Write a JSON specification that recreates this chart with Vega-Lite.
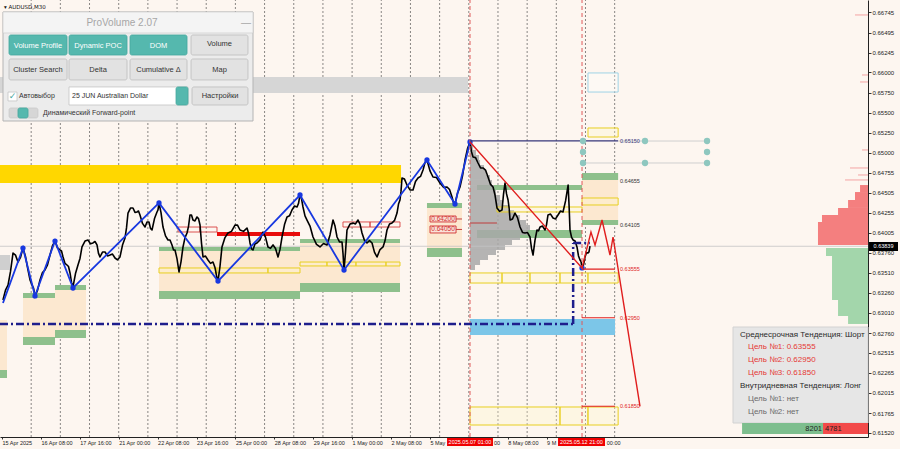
{
"$schema":"https://vega.github.io/schema/vega-lite/v6.json",
"width":868,"height":437,
"autosize":{"type":"none"},
"padding":{"left":0,"top":0,"right":32,"bottom":12},
"background":"#FDF6F0",
"config":{"view":{"fill":"#FDF6F0","stroke":null},"font":"Liberation Sans"},
"encoding":{
 "x":{"field":"t","type":"quantitative","title":null,"scale":{"domain":[-3.3,1424.8],"nice":false,"zero":false},
  "axis":{"orient":"bottom","values":[0,64,128,192,256,320,384,448,512,576,640,704,768,832,896,960],
  "labelExpr":"['15 Apr 2025','16 Apr 08:00','17 Apr 16:00','21 Apr 00:00','22 Apr 08:00','23 Apr 16:00','25 Apr 00:00','28 Apr 08:00','29 Apr 16:00','1 May 00:00','2 May 08:00','5 May','','8 May 08:00','9 M',''][round(datum.value/64)]",
  "labelAlign":"left","labelFontSize":5.5,"labelColor":"#222","tickSize":2,"tickColor":"#333","domainColor":"#222","labelPadding":1,"grid":false,"labelOverlap":false,"labelFlush":false,"labelBound":false}},
 "y":{"field":"p","type":"quantitative","title":null,"scale":{"domain":[0.61468,0.669],"nice":false,"zero":false},
  "axis":{"orient":"right","values":[0.66745,0.66495,0.66245,0.66,0.6575,0.655,0.6525,0.65,0.64755,0.64505,0.64255,0.64005,0.6376,0.6351,0.6326,0.6301,0.6276,0.62515,0.62265,0.62015,0.61765,0.6152],
  "format":".5f","labelFontSize":6,"labelColor":"#222","tickSize":3,"tickColor":"#333","domainColor":"#222","labelPadding":1,"grid":false,"labelOverlap":false,"labelFlush":false,"labelBound":false}}
},
"datasets":{
"seps":[{"t":48,"p":0.61468,"p2":0.669},{"t":96,"p":0.61468,"p2":0.669},{"t":144,"p":0.61468,"p2":0.669},{"t":192,"p":0.61468,"p2":0.669},{"t":240,"p":0.61468,"p2":0.669},{"t":288,"p":0.61468,"p2":0.669},{"t":336,"p":0.61468,"p2":0.669},{"t":384,"p":0.61468,"p2":0.669},{"t":432,"p":0.61468,"p2":0.669},{"t":480,"p":0.61468,"p2":0.669},{"t":528,"p":0.61468,"p2":0.669},{"t":576,"p":0.61468,"p2":0.669},{"t":624,"p":0.61468,"p2":0.669},{"t":672,"p":0.61468,"p2":0.669},{"t":720,"p":0.61468,"p2":0.669},{"t":768,"p":0.61468,"p2":0.669},{"t":816,"p":0.61468,"p2":0.669},{"t":864,"p":0.61468,"p2":0.669},{"t":912,"p":0.61468,"p2":0.669},{"t":960,"p":0.61468,"p2":0.669},{"t":1008,"p":0.61468,"p2":0.669}],
"redv":[{"t":770,"p":0.61468,"p2":0.669},{"t":954.3,"p":0.61468,"p2":0.669}],
"fills":[
{"kind":"grayband","t":-3.3,"t2":766.7,"p":0.65943,"p2":0.65744},
{"kind":"yellowband","t":-3.3,"t2":656.5,"p":0.64849,"p2":0.64625},
{"kind":"beige","t":34.55,"t2":87.2,"p":0.63208,"p2":0.62711},
{"kind":"beige","t":87.2,"t2":138.2,"p":0.63295,"p2":0.62798},
{"kind":"beige","t":258.3,"t2":490.3,"p":0.6378,"p2":0.63283},
{"kind":"beige","t":490.3,"t2":654.8,"p":0.6388,"p2":0.63382},
{"kind":"beige","t":699.2,"t2":756.8,"p":0.64315,"p2":0.63817},
{"kind":"beige","t":954.3,"t2":1013.7,"p":0.64663,"p2":0.64141},
{"kind":"beige","t":-3.3,"t2":8.2,"p":0.62922,"p2":0.62301},
{"kind":"green","t":34.55,"t2":87.2,"p":0.63258,"p2":0.63196},
{"kind":"green","t":34.55,"t2":87.2,"p":0.62711,"p2":0.62612},
{"kind":"green","t":87.2,"t2":138.2,"p":0.63357,"p2":0.63295},
{"kind":"green","t":87.2,"t2":138.2,"p":0.62798,"p2":0.62699},
{"kind":"green","t":258.3,"t2":490.3,"p":0.6383,"p2":0.6378},
{"kind":"green","t":258.3,"t2":490.3,"p":0.63283,"p2":0.63183},
{"kind":"green","t":490.3,"t2":654.8,"p":0.63929,"p2":0.6388},
{"kind":"green","t":490.3,"t2":654.8,"p":0.63382,"p2":0.6327},
{"kind":"green","t":699.2,"t2":756.8,"p":0.64377,"p2":0.64315},
{"kind":"green","t":699.2,"t2":756.8,"p":0.63817,"p2":0.63706},
{"kind":"green","t":781.5,"t2":954.3,"p":0.646,"p2":0.64538},
{"kind":"green","t":781.5,"t2":954.3,"p":0.64041,"p2":0.63942},
{"kind":"green","t":954.3,"t2":1013.7,"p":0.6475,"p2":0.64663},
{"kind":"green","t":954.3,"t2":1013.7,"p":0.64165,"p2":0.64103},
{"kind":"green","t":-3.3,"t2":8.2,"p":0.62301,"p2":0.62201},
{"kind":"graybox","t":-3.3,"t2":13.2,"p":0.6373,"p2":0.63544},
{"kind":"skyblue","t":770,"t2":1008.6,"p":0.62935,"p2":0.62736},
{"kind":"redbar","t":353.7,"t2":490.3,"p":0.64016,"p2":0.63967}
],
"frames":[
{"kind":"yellow","t":258.3,"t2":353.7,"p":0.63569,"p2":0.63507},
{"kind":"yellow","t":353.7,"t2":437.6,"p":0.63569,"p2":0.63507},
{"kind":"yellow","t":437.6,"t2":490.3,"p":0.63569,"p2":0.63507},
{"kind":"yellow","t":490.3,"t2":534.7,"p":0.63643,"p2":0.63594},
{"kind":"yellow","t":534.7,"t2":582.4,"p":0.63643,"p2":0.63594},
{"kind":"yellow","t":582.4,"t2":631.8,"p":0.63643,"p2":0.63594},
{"kind":"yellow","t":631.8,"t2":654.8,"p":0.63643,"p2":0.63594},
{"kind":"yellow","t":814.4,"t2":954.3,"p":0.64327,"p2":0.64265},
{"kind":"yellow","t":954.3,"t2":1013.7,"p":0.64439,"p2":0.64352},
{"kind":"yellow","t":770,"t2":822.7,"p":0.63507,"p2":0.63382},
{"kind":"yellow","t":822.7,"t2":868.7,"p":0.63507,"p2":0.63382},
{"kind":"yellow","t":868.7,"t2":918.1,"p":0.63507,"p2":0.63382},
{"kind":"yellow","t":918.1,"t2":964.1,"p":0.63507,"p2":0.63382},
{"kind":"yellow","t":964.1,"t2":1013.7,"p":0.63507,"p2":0.63382},
{"kind":"yellow","t":770,"t2":918.1,"p":0.61841,"p2":0.61617},
{"kind":"yellow","t":918.1,"t2":964.1,"p":0.61841,"p2":0.61617},
{"kind":"yellow","t":964.1,"t2":1013.7,"p":0.61841,"p2":0.61617},
{"kind":"yellow","t":964.1,"t2":1013.7,"p":0.65309,"p2":0.65197},
{"kind":"lightblue","t":964.1,"t2":1013.7,"p":0.65993,"p2":0.65756},
{"kind":"red","t":289.6,"t2":325.8,"p":0.64078,"p2":0.64016},
{"kind":"red","t":325.8,"t2":353.7,"p":0.64078,"p2":0.64016},
{"kind":"red","t":561,"t2":605.5,"p":0.64141,"p2":0.64078},
{"kind":"red","t":605.5,"t2":654.8,"p":0.64141,"p2":0.64078}
],
"tags":[
{"t":704.2,"t2":747,"p":0.64215,"p2":0.64141},
{"t":704.2,"t2":747,"p":0.64091,"p2":0.64004}
],
"tagtext":[{"t":725.6,"p":0.64178,"text":"0.64200"},{"t":725.6,"p":0.64048,"text":"0.64050"}],
"profile":[
{"t":770,"t2":774.9,"p":0.65098,"p2":0.65036},
{"t":770,"t2":779.9,"p":0.65036,"p2":0.64973},
{"t":770,"t2":784.8,"p":0.64973,"p2":0.64911},
{"t":770,"t2":786.5,"p":0.64911,"p2":0.64849},
{"t":770,"t2":793.0,"p":0.64849,"p2":0.64787},
{"t":770,"t2":796.3,"p":0.64787,"p2":0.64725},
{"t":770,"t2":802.9,"p":0.64725,"p2":0.64663},
{"t":770,"t2":806.2,"p":0.64663,"p2":0.646},
{"t":770,"t2":809.5,"p":0.646,"p2":0.64538},
{"t":770,"t2":812.8,"p":0.64538,"p2":0.64476},
{"t":770,"t2":819.4,"p":0.64476,"p2":0.64414},
{"t":770,"t2":824.3,"p":0.64414,"p2":0.64352},
{"t":770,"t2":832.5,"p":0.64352,"p2":0.6429},
{"t":770,"t2":842.4,"p":0.6429,"p2":0.64228},
{"t":770,"t2":852.3,"p":0.64228,"p2":0.64165},
{"t":770,"t2":862.1,"p":0.64165,"p2":0.64103},
{"t":770,"t2":868.7,"p":0.64103,"p2":0.64041},
{"t":770,"t2":865.4,"p":0.64041,"p2":0.63979},
{"t":770,"t2":852.3,"p":0.63979,"p2":0.63917},
{"t":770,"t2":839.1,"p":0.63917,"p2":0.63855},
{"t":770,"t2":827.6,"p":0.63855,"p2":0.63793},
{"t":770,"t2":812.8,"p":0.63793,"p2":0.6373},
{"t":770,"t2":799.6,"p":0.6373,"p2":0.63668},
{"t":770,"t2":786.5,"p":0.63668,"p2":0.63606},
{"t":770,"t2":778.2,"p":0.63606,"p2":0.63544}
],
"dom":[
{"side":"sell","t":1411.7,"t2":1424.8,"p":0.646,"p2":0.64513},
{"side":"sell","t":1403.4,"t2":1424.8,"p":0.64513,"p2":0.64414},
{"side":"sell","t":1392.0,"t2":1424.8,"p":0.64414,"p2":0.64315},
{"side":"sell","t":1375.5,"t2":1424.8,"p":0.64315,"p2":0.64228},
{"side":"sell","t":1349.1,"t2":1424.8,"p":0.64228,"p2":0.64141},
{"side":"sell","t":1342.5,"t2":1424.8,"p":0.64141,"p2":0.63855},
{"side":"buy","t":1355.7,"t2":1424.8,"p":0.63817,"p2":0.63718},
{"side":"buy","t":1365.6,"t2":1424.8,"p":0.63718,"p2":0.63171},
{"side":"buy","t":1375.5,"t2":1424.8,"p":0.63171,"p2":0.62972},
{"side":"buy","t":1392.0,"t2":1424.8,"p":0.62972,"p2":0.62873}
],
"domthin":[
{"t":1403.4,"t2":1424.8,"p":0.66714},
{"t":1415.0,"t2":1424.8,"p":0.65968},
{"t":1411.7,"t2":1424.8,"p":0.65881},
{"t":1415.0,"t2":1424.8,"p":0.65036},
{"t":1395.2,"t2":1424.8,"p":0.64812},
{"t":1408.4,"t2":1424.8,"p":0.64725},
{"t":1387.0,"t2":1424.8,"p":0.64663}
],
"hlines":[
{"kind":"cur","t":-3.3,"t2":1424.8,"p":0.63839},
{"kind":"navy","t":770,"t2":1013.7,"p":0.6515},
{"kind":"red","t":954.3,"t2":1008.6,"p":0.63555},
{"kind":"red","t":954.3,"t2":1008.6,"p":0.6295},
{"kind":"red","t":954.3,"t2":1008.6,"p":0.6185},
{"kind":"dotline","t":1013.7,"t2":1160,"p":0.65147},
{"kind":"dotline","t":955.9,"t2":1160,"p":0.64874},
{"kind":"poc","t":770,"t2":814.4,"p":0.64128},
{"kind":"tagtick","t":747,"t2":756.8,"p":0.64178},
{"kind":"tagtick","t":747,"t2":756.8,"p":0.64048},
{"kind":"dashdot","t":-3.3,"t2":942.7,"p":0.62873},
{"kind":"dashdot","t":939.7,"t2":967.4,"p":0.6388}
],
"vseg":[{"t":939.7,"p":0.62873,"p2":0.6388}],
"path":[
{"t":1.6,"p":0.63171},{"t":9.9,"p":0.63357},{"t":18.1,"p":0.63755},{"t":26.3,"p":0.63643},{"t":34.5,"p":0.63817},{"t":42.8,"p":0.63544},{"t":49.4,"p":0.63357},{"t":54.3,"p":0.63221},{"t":62.5,"p":0.6342},{"t":70.7,"p":0.63544},{"t":79,"p":0.6373},{"t":87.2,"p":0.63904},{"t":95.4,"p":0.63793},{"t":100.4,"p":0.63706},{"t":106.9,"p":0.63606},{"t":111.9,"p":0.63507},{"t":116.8,"p":0.63333},{"t":125,"p":0.63606},{"t":131.6,"p":0.6383},{"t":141.5,"p":0.63917},{"t":149.7,"p":0.6388},{"t":156.3,"p":0.63855},{"t":161.2,"p":0.63706},{"t":169.5,"p":0.63768},{"t":177.7,"p":0.6373},{"t":185.9,"p":0.63693},{"t":194.1,"p":0.63706},{"t":202.4,"p":0.63942},{"t":207.3,"p":0.64252},{"t":215.5,"p":0.64315},{"t":222.1,"p":0.64265},{"t":227,"p":0.64228},{"t":235.3,"p":0.64078},{"t":241.8,"p":0.64141},{"t":246.8,"p":0.64041},{"t":255,"p":0.64265},{"t":258.3,"p":0.64377},{"t":264.9,"p":0.64078},{"t":273.1,"p":0.63917},{"t":279.7,"p":0.63855},{"t":284.6,"p":0.63793},{"t":291.2,"p":0.63519},{"t":297.8,"p":0.6383},{"t":304.4,"p":0.64004},{"t":309.3,"p":0.64228},{"t":314.2,"p":0.64165},{"t":320.8,"p":0.64203},{"t":325.8,"p":0.64103},{"t":330.7,"p":0.63706},{"t":338.9,"p":0.63668},{"t":347.1,"p":0.63643},{"t":353.7,"p":0.63444},{"t":355.4,"p":0.63407},{"t":361.9,"p":0.6383},{"t":371.8,"p":0.64004},{"t":383.3,"p":0.64103},{"t":391.6,"p":0.64041},{"t":403.1,"p":0.64066},{"t":408,"p":0.6388},{"t":412.9,"p":0.63793},{"t":419.5,"p":0.6388},{"t":429.4,"p":0.64016},{"t":437.6,"p":0.6383},{"t":445.9,"p":0.63855},{"t":454.1,"p":0.63706},{"t":460.7,"p":0.63954},{"t":468.9,"p":0.64203},{"t":477.1,"p":0.6429},{"t":485.4,"p":0.64327},{"t":490.3,"p":0.64476},{"t":495.2,"p":0.64327},{"t":501.8,"p":0.64165},{"t":511.7,"p":0.63954},{"t":523.2,"p":0.6383},{"t":534.7,"p":0.63855},{"t":544.6,"p":0.64165},{"t":551.2,"p":0.63954},{"t":559.4,"p":0.63892},{"t":562.7,"p":0.63544},{"t":567.6,"p":0.64041},{"t":577.5,"p":0.64128},{"t":585.7,"p":0.64165},{"t":592.3,"p":0.64004},{"t":600.5,"p":0.6388},{"t":608.8,"p":0.6388},{"t":617,"p":0.63706},{"t":626.9,"p":0.6383},{"t":633.4,"p":0.64041},{"t":641.7,"p":0.64128},{"t":649.9,"p":0.64252},{"t":654.8,"p":0.64414},{"t":658.1,"p":0.64687},{"t":666.3,"p":0.646},{"t":676.2,"p":0.64538},{"t":684.4,"p":0.64687},{"t":692.7,"p":0.64787},{"t":699.2,"p":0.64911},{"t":709.1,"p":0.647},{"t":720.6,"p":0.64625},{"t":732.2,"p":0.64576},{"t":740.4,"p":0.64451},{"t":745.3,"p":0.64364},{"t":753.5,"p":0.64576},{"t":761.8,"p":0.64911},{"t":770,"p":0.65135},{"t":775,"p":0.64948},{"t":783.2,"p":0.64874},{"t":791.4,"p":0.64812},{"t":799.6,"p":0.647},{"t":807.9,"p":0.64576},{"t":814.4,"p":0.64315},{"t":822.7,"p":0.6429},{"t":827.6,"p":0.64625},{"t":832.6,"p":0.64414},{"t":835.9,"p":0.64165},{"t":844,"p":0.64252},{"t":852.3,"p":0.64078},{"t":860.5,"p":0.64004},{"t":868.7,"p":0.63954},{"t":873.7,"p":0.6373},{"t":880.2,"p":0.64041},{"t":885.2,"p":0.64078},{"t":893.4,"p":0.64041},{"t":898.3,"p":0.64228},{"t":906.6,"p":0.6419},{"t":914.8,"p":0.64228},{"t":923,"p":0.64265},{"t":931.4,"p":0.646},{"t":934.5,"p":0.64041},{"t":939.7,"p":0.63917},{"t":946,"p":0.6383},{"t":951,"p":0.63668},{"t":954.3,"p":0.63569},{"t":959.2,"p":0.63706},{"t":964.1,"p":0.63755},{"t":967.4,"p":0.63842},
{"t":5.75,"p":0.63294},{"t":14.0,"p":0.63526},{"t":22.2,"p":0.63729},{"t":30.4,"p":0.637},{"t":38.65,"p":0.63711},{"t":46.1,"p":0.63421},{"t":51.85,"p":0.63319},{"t":58.4,"p":0.63291},{"t":66.6,"p":0.63512},{"t":74.85,"p":0.63607},{"t":83.1,"p":0.63847},{"t":91.3,"p":0.63819},{"t":97.9,"p":0.6378},{"t":103.65,"p":0.63626},{"t":109.4,"p":0.63587},{"t":114.35,"p":0.6339},{"t":120.9,"p":0.635},{"t":128.3,"p":0.63688},{"t":136.55,"p":0.63904},{"t":145.6,"p":0.63869},{"t":153,"p":0.63898},{"t":158.75,"p":0.63751},{"t":165.35,"p":0.63767},{"t":173.6,"p":0.63719},{"t":181.8,"p":0.63742},{"t":190,"p":0.6367},{"t":198.25,"p":0.63854},{"t":204.85,"p":0.64067},{"t":211.4,"p":0.64314},{"t":218.8,"p":0.6426},{"t":224.55,"p":0.64277},{"t":231.15,"p":0.64123},{"t":238.55,"p":0.6414},{"t":244.3,"p":0.64061},{"t":250.9,"p":0.64183},{"t":256.65,"p":0.64291},{"t":261.6,"p":0.64258},{"t":269,"p":0.63968},{"t":276.4,"p":0.63916},{"t":282.15,"p":0.63794},{"t":287.9,"p":0.63686},{"t":294.5,"p":0.63645},{"t":301.1,"p":0.63947},{"t":306.85,"p":0.64086},{"t":311.75,"p":0.64227},{"t":317.5,"p":0.64154},{"t":323.3,"p":0.64183},{"t":328.25,"p":0.63875},{"t":334.8,"p":0.63717},{"t":343,"p":0.63626},{"t":350.4,"p":0.63574},{"t":358.65,"p":0.63589},{"t":366.85,"p":0.63947},{"t":377.55,"p":0.64024},{"t":387.45,"p":0.64102},{"t":397.35,"p":0.64024},{"t":405.55,"p":0.64003},{"t":410.45,"p":0.63807},{"t":416.2,"p":0.63867},{"t":424.45,"p":0.63918},{"t":433.5,"p":0.63953},{"t":441.75,"p":0.63813},{"t":450,"p":0.63811},{"t":457.4,"p":0.638},{"t":464.8,"p":0.64109},{"t":473,"p":0.64217},{"t":481.25,"p":0.64339},{"t":487.85,"p":0.64372},{"t":492.75,"p":0.64432},{"t":498.5,"p":0.64216},{"t":506.75,"p":0.6409},{"t":517.45,"p":0.63862},{"t":528.95,"p":0.63873},{"t":539.65,"p":0.6398},{"t":547.9,"p":0.6409},{"t":555.3,"p":0.63893},{"t":561.05,"p":0.63748},{"t":565.15,"p":0.63763},{"t":572.55,"p":0.64115},{"t":581.6,"p":0.64117},{"t":589,"p":0.64115},{"t":596.4,"p":0.63912},{"t":604.65,"p":0.6391},{"t":612.9,"p":0.63763},{"t":621.95,"p":0.63798},{"t":630.15,"p":0.63906},{"t":637.55,"p":0.64115},{"t":645.8,"p":0.6416},{"t":652.35,"p":0.64363},{"t":656.45,"p":0.64521},{"t":662.2,"p":0.64674},{"t":671.25,"p":0.64539},{"t":680.3,"p":0.64643},{"t":688.55,"p":0.64707},{"t":695.95,"p":0.64879},{"t":704.15,"p":0.64776},{"t":714.85,"p":0.64693},{"t":726.4,"p":0.64571},{"t":736.3,"p":0.64544},{"t":742.85,"p":0.64378},{"t":749.4,"p":0.645},{"t":757.65,"p":0.64714},{"t":765.9,"p":0.65053},{"t":772.5,"p":0.65012},{"t":779.1,"p":0.64941},{"t":787.3,"p":0.64813},{"t":795.5,"p":0.64786},{"t":803.75,"p":0.64608},{"t":811.15,"p":0.64476},{"t":818.55,"p":0.64273},{"t":825.15,"p":0.64488},{"t":830.1,"p":0.6449},{"t":834.25,"p":0.6432},{"t":839.95,"p":0.64179},{"t":848.15,"p":0.64195},{"t":856.4,"p":0.64011},{"t":864.6,"p":0.64009},{"t":871.2,"p":0.63812},{"t":876.95,"p":0.63916},{"t":882.7,"p":0.6403},{"t":889.3,"p":0.6409},{"t":895.85,"p":0.64105},{"t":902.45,"p":0.64239},{"t":910.7,"p":0.64179},{"t":918.9,"p":0.64277},{"t":927.2,"p":0.64403},{"t":932.95,"p":0.6435},{"t":937.1,"p":0.63949},{"t":942.85,"p":0.63904},{"t":948.5,"p":0.63719},{"t":952.65,"p":0.63649},{"t":956.75,"p":0.63608},{"t":961.65,"p":0.63761},{"t":965.75,"p":0.63769}
],
"zig":[{"t":1.6,"p":0.63134},{"t":34.5,"p":0.63817},{"t":54.3,"p":0.63221},{"t":87.2,"p":0.63904},{"t":116.8,"p":0.6332},{"t":258.3,"p":0.64377},{"t":355.4,"p":0.63407},{"t":490.3,"p":0.64476},{"t":562.7,"p":0.63544},{"t":699.2,"p":0.64911},{"t":745.3,"p":0.64364},{"t":770,"p":0.65135},{"t":954.3,"p":0.63569,"only":"dot"}],
"proj":[{"t":770,"p":0.65135},{"t":954.3,"p":0.63569},{"t":969,"p":0.64016},{"t":975.7,"p":0.63855},{"t":987.2,"p":0.64165},{"t":1000.3,"p":0.6373},{"t":1005.3,"p":0.63954},{"t":1049.7,"p":0.6185}],
"dots":[{"t":955.9,"p":0.65147},{"t":1057.9,"p":0.65147},{"t":1160,"p":0.65147},{"t":955.9,"p":0.65011},{"t":1160,"p":0.65011},{"t":955.9,"p":0.64874},{"t":1057.9,"p":0.64874},{"t":1160,"p":0.64874}],
"plabels":[
{"t":1016.8,"p":0.65147,"text":"0.65150","kind":"navy"},
{"t":1016.8,"p":0.6465,"text":"0.64655","kind":"dark"},
{"t":1016.8,"p":0.64103,"text":"0.64105","kind":"dark"},
{"t":1016.8,"p":0.63556,"text":"0.63555","kind":"red"},
{"t":1016.8,"p":0.62947,"text":"0.62950","kind":"red"},
{"t":1016.8,"p":0.61853,"text":"0.61850","kind":"red"}
],
"infobox":[
{"kind":"box","t":1202.7,"t2":1424.8,"p":0.62835,"p2":0.61642},
{"kind":"buy","t":1217.6,"t2":1350.8,"p":0.61642,"p2":0.61505},
{"kind":"sell","t":1350.8,"t2":1424.8,"p":0.61642,"p2":0.61505}
],
"info":[
{"t":1214.2,"p":0.62736,"text":"Среднесрочная Тенденция: Шорт","kind":"head"},
{"t":1227.4,"p":0.62587,"text":"Цель №1: 0.63555","kind":"red"},
{"t":1227.4,"p":0.62425,"text":"Цель №2: 0.62950","kind":"red"},
{"t":1227.4,"p":0.62264,"text":"Цель №3: 0.61850","kind":"red"},
{"t":1214.2,"p":0.62102,"text":"Внутридневная Тенденция: Лонг","kind":"head"},
{"t":1227.4,"p":0.6194,"text":"Цель №1: нет","kind":"gray"},
{"t":1227.4,"p":0.61779,"text":"Цель №2: нет","kind":"gray"},
{"t":1349.1,"p":0.61568,"text":"8201","kind":"numr"},
{"t":1354.1,"p":0.61568,"text":"4781","kind":"numl"}
],
"panel":[
{"kind":"bg","t":1.65,"t2":412.97,"p":0.66751,"p2":0.65396},
{"kind":"title","t":1.65,"t2":412.97,"p":0.66751,"p2":0.6649},
{"kind":"teal","t":11.5,"t2":107,"p":0.66465,"p2":0.66216},
{"kind":"teal","t":110.2,"t2":205.7,"p":0.66465,"p2":0.66216},
{"kind":"teal","t":210.6,"t2":304.4,"p":0.66465,"p2":0.66216},
{"kind":"btn","t":311,"t2":404.7,"p":0.66465,"p2":0.66216},
{"kind":"btn","t":11.5,"t2":107,"p":0.66167,"p2":0.65906},
{"kind":"btn","t":110.2,"t2":205.7,"p":0.66167,"p2":0.65906},
{"kind":"btn","t":210.6,"t2":304.4,"p":0.66167,"p2":0.65906},
{"kind":"btn","t":311,"t2":404.7,"p":0.66167,"p2":0.65906},
{"kind":"btn","t":312.6,"t2":404.7,"p":0.65819,"p2":0.65595},
{"kind":"white","t":110.2,"t2":306,"p":0.65819,"p2":0.65595},
{"kind":"teal","t":286.3,"t2":306,"p":0.65819,"p2":0.65595},
{"kind":"white","t":9.9,"t2":24.7,"p":0.65756,"p2":0.65645},
{"kind":"track","t":11.5,"t2":59.2,"p":0.65558,"p2":0.65433},
{"kind":"teal","t":26.3,"t2":42.8,"p":0.65558,"p2":0.65433}
],
"ptext":[
{"t":197.4,"p":0.66614,"text":"ProVolume 2.07","kind":"title"},
{"t":401.5,"p":0.66614,"text":"—","kind":"title"},
{"t":59.2,"p":0.66328,"text":"Volume Profile","kind":"w"},
{"t":158,"p":0.66328,"text":"Dynamic POC","kind":"w"},
{"t":257.5,"p":0.66328,"text":"DOM","kind":"w"},
{"t":357.9,"p":0.66353,"text":"Volume","kind":"d"},
{"t":59.2,"p":0.6603,"text":"Cluster Search","kind":"d"},
{"t":158,"p":0.6603,"text":"Delta","kind":"d"},
{"t":257.5,"p":0.6603,"text":"Cumulative Δ","kind":"d"},
{"t":357.9,"p":0.6603,"text":"Map","kind":"d"},
{"t":358.7,"p":0.65707,"text":"Настройки","kind":"d"},
{"t":28,"p":0.65707,"text":"Автовыбор","kind":"dl"},
{"t":115.2,"p":0.65707,"text":"25 JUN Australian Dollar","kind":"dl"},
{"t":67.5,"p":0.65495,"text":"Динамический Forward-point","kind":"dl"},
{"t":17.3,"p":0.65707,"text":"✓","kind":"check"},
{"t":3.3,"p":0.66813,"text":"▾ AUDUSD,M30","kind":"sym"}
],
"axbox":[
{"kind":"red","t":732.2,"t2":807.8,"p":0.61456,"p2":0.61356},
{"kind":"red","t":914.8,"t2":992.1,"p":0.61456,"p2":0.61356},
{"kind":"black","t":1426.5,"t2":1474.2,"p":0.63892,"p2":0.6378}
],
"axtext":[{"t":770,"p":0.61406,"text":"2025.05.07 01:00"},{"t":953.4,"p":0.61406,"text":"2025.05.12 21:00"},{"t":1450.3,"p":0.63836,"text":"0.63839"}],
"axfrag":[{"t":809.5,"p":0.61397,"text":"00"},{"t":995,"p":0.61397,"text":"00:00"}]
},
"layer":[
{"data":{"name":"seps"},"mark":{"type":"rule","color":"#3a3a3a","strokeDash":[2,2],"strokeWidth":0.6},"encoding":{"y2":{"field":"p2"}}},
{"data":{"name":"fills"},"transform":[{"filter":"datum.kind=='grayband'"}],"mark":{"type":"rect","color":"#D6D6D6"},"encoding":{"x2":{"field":"t2"},"y2":{"field":"p2"}}},
{"data":{"name":"fills"},"transform":[{"filter":"datum.kind=='yellowband'"}],"mark":{"type":"rect","color":"#FFD700"},"encoding":{"x2":{"field":"t2"},"y2":{"field":"p2"}}},
{"data":{"name":"fills"},"transform":[{"filter":"datum.kind=='beige'"}],"mark":{"type":"rect","color":"#FCE8D0"},"encoding":{"x2":{"field":"t2"},"y2":{"field":"p2"}}},
{"data":{"name":"fills"},"transform":[{"filter":"datum.kind=='graybox'"}],"mark":{"type":"rect","color":"#CFCFCF"},"encoding":{"x2":{"field":"t2"},"y2":{"field":"p2"}}},
{"data":{"name":"fills"},"transform":[{"filter":"datum.kind=='green'"}],"mark":{"type":"rect","color":"#8EC08C"},"encoding":{"x2":{"field":"t2"},"y2":{"field":"p2"}}},
{"data":{"name":"fills"},"transform":[{"filter":"datum.kind=='skyblue'"}],"mark":{"type":"rect","color":"#7CC6E8"},"encoding":{"x2":{"field":"t2"},"y2":{"field":"p2"}}},
{"data":{"name":"profile"},"mark":{"type":"rect","color":"#A8A8A8","opacity":0.85},"encoding":{"x2":{"field":"t2"},"y2":{"field":"p2"}}},
{"data":{"name":"dom"},"transform":[{"filter":"datum.side=='sell'"}],"mark":{"type":"rect","color":"#F47F7F"},"encoding":{"x2":{"field":"t2"},"y2":{"field":"p2"}}},
{"data":{"name":"dom"},"transform":[{"filter":"datum.side=='buy'"}],"mark":{"type":"rect","color":"#A3D6AB"},"encoding":{"x2":{"field":"t2"},"y2":{"field":"p2"}}},
{"data":{"name":"domthin"},"mark":{"type":"rule","color":"#F4A4A4","strokeWidth":1},"encoding":{"x2":{"field":"t2"}}},
{"data":{"name":"hlines"},"transform":[{"filter":"datum.kind=='cur'"}],"mark":{"type":"rule","color":"#C4C4C4","strokeWidth":0.8},"encoding":{"x2":{"field":"t2"}}},
{"data":{"name":"frames"},"transform":[{"filter":"datum.kind=='yellow'"}],"mark":{"type":"rect","fill":"#FFF6C8","fillOpacity":0.3,"stroke":"#E8CF20","strokeWidth":1},"encoding":{"x2":{"field":"t2"},"y2":{"field":"p2"}}},
{"data":{"name":"frames"},"transform":[{"filter":"datum.kind=='lightblue'"}],"mark":{"type":"rect","fill":"#FFFFFF","fillOpacity":0.3,"stroke":"#9FD3E6","strokeWidth":1},"encoding":{"x2":{"field":"t2"},"y2":{"field":"p2"}}},
{"data":{"name":"frames"},"transform":[{"filter":"datum.kind=='red'"}],"mark":{"type":"rect","fill":"#FFFFFF","fillOpacity":0,"stroke":"#D84040","strokeWidth":0.9},"encoding":{"x2":{"field":"t2"},"y2":{"field":"p2"}}},
{"data":{"name":"fills"},"transform":[{"filter":"datum.kind=='redbar'"}],"mark":{"type":"rect","color":"#E80C0C"},"encoding":{"x2":{"field":"t2"},"y2":{"field":"p2"}}},
{"data":{"name":"hlines"},"transform":[{"filter":"datum.kind=='poc' || datum.kind=='tagtick'"}],"mark":{"type":"rule","color":"#C03030","strokeWidth":0.9},"encoding":{"x2":{"field":"t2"}}},
{"data":{"name":"tags"},"mark":{"type":"rect","fill":"#FBE2D8","stroke":"#D03030","strokeWidth":0.9},"encoding":{"x2":{"field":"t2"},"y2":{"field":"p2"}}},
{"data":{"name":"tagtext"},"mark":{"type":"text","color":"#D03030","fontSize":6.5,"align":"center","baseline":"middle"},"encoding":{"text":{"field":"text"}}},
{"data":{"name":"path"},"mark":{"type":"line","color":"#000000","strokeWidth":1.6,"strokeJoin":"round"},"encoding":{}},
{"data":{"name":"zig"},"transform":[{"filter":"datum.only!='dot'"}],"mark":{"type":"line","color":"#1838E0","strokeWidth":1.8},"encoding":{}},
{"data":{"name":"zig"},"transform":[{"filter":"datum.t>2"}],"mark":{"type":"point","filled":true,"color":"#1838E0","size":28,"opacity":1},"encoding":{}},
{"data":{"name":"redv"},"mark":{"type":"rule","color":"#E05A5A","strokeDash":[4,3],"strokeWidth":1},"encoding":{"y2":{"field":"p2"}}},
{"data":{"name":"hlines"},"transform":[{"filter":"datum.kind=='dashdot'"}],"mark":{"type":"rule","color":"#1E1E8C","strokeWidth":2.5,"strokeDash":[8,3,2,3]},"encoding":{"x2":{"field":"t2"}}},
{"data":{"name":"vseg"},"mark":{"type":"rule","color":"#1E1E8C","strokeWidth":2.5,"strokeDash":[8,3,2,3]},"encoding":{"y2":{"field":"p2"}}},
{"data":{"name":"proj"},"mark":{"type":"line","color":"#E01E1E","strokeWidth":1.4},"encoding":{}},
{"data":{"name":"hlines"},"transform":[{"filter":"datum.kind=='red'"}],"mark":{"type":"rule","color":"#E01E1E","strokeWidth":1.2},"encoding":{"x2":{"field":"t2"}}},
{"data":{"name":"hlines"},"transform":[{"filter":"datum.kind=='navy'"}],"mark":{"type":"rule","color":"#36367A","strokeWidth":1.2},"encoding":{"x2":{"field":"t2"}}},
{"data":{"name":"hlines"},"transform":[{"filter":"datum.kind=='dotline'"}],"mark":{"type":"rule","color":"#CFCFCF","strokeWidth":1},"encoding":{"x2":{"field":"t2"}}},
{"data":{"name":"dots"},"mark":{"type":"point","filled":true,"color":"#8EC7BF","size":40,"opacity":1},"encoding":{}},
{"data":{"name":"plabels"},"transform":[{"filter":"datum.kind=='navy'"}],"mark":{"type":"text","color":"#36367A","fontSize":5.5,"align":"left","baseline":"middle"},"encoding":{"text":{"field":"text"}}},
{"data":{"name":"plabels"},"transform":[{"filter":"datum.kind=='dark'"}],"mark":{"type":"text","color":"#333333","fontSize":5.5,"align":"left","baseline":"middle"},"encoding":{"text":{"field":"text"}}},
{"data":{"name":"plabels"},"transform":[{"filter":"datum.kind=='red'"}],"mark":{"type":"text","color":"#E01E1E","fontSize":5.5,"align":"left","baseline":"middle"},"encoding":{"text":{"field":"text"}}},
{"data":{"name":"infobox"},"transform":[{"filter":"datum.kind=='box'"}],"mark":{"type":"rect","fill":"#E6E6E6","stroke":"#D2D2D2","strokeWidth":1},"encoding":{"x2":{"field":"t2"},"y2":{"field":"p2"}}},
{"data":{"name":"infobox"},"transform":[{"filter":"datum.kind=='buy'"}],"mark":{"type":"rect","color":"#7DBE8E"},"encoding":{"x2":{"field":"t2"},"y2":{"field":"p2"}}},
{"data":{"name":"infobox"},"transform":[{"filter":"datum.kind=='sell'"}],"mark":{"type":"rect","color":"#F24A4A"},"encoding":{"x2":{"field":"t2"},"y2":{"field":"p2"}}},
{"data":{"name":"info"},"transform":[{"filter":"datum.kind=='head'"}],"mark":{"type":"text","color":"#2A2A2A","fontSize":8,"align":"left","baseline":"middle"},"encoding":{"text":{"field":"text"}}},
{"data":{"name":"info"},"transform":[{"filter":"datum.kind=='red'"}],"mark":{"type":"text","color":"#E53935","fontSize":8,"align":"left","baseline":"middle"},"encoding":{"text":{"field":"text"}}},
{"data":{"name":"info"},"transform":[{"filter":"datum.kind=='gray'"}],"mark":{"type":"text","color":"#6A6A6A","fontSize":8,"align":"left","baseline":"middle"},"encoding":{"text":{"field":"text"}}},
{"data":{"name":"info"},"transform":[{"filter":"datum.kind=='numr'"}],"mark":{"type":"text","color":"#1E1E1E","fontSize":7.5,"align":"right","baseline":"middle"},"encoding":{"text":{"field":"text"}}},
{"data":{"name":"info"},"transform":[{"filter":"datum.kind=='numl'"}],"mark":{"type":"text","color":"#1E1E1E","fontSize":7.5,"align":"left","baseline":"middle"},"encoding":{"text":{"field":"text"}}},
{"data":{"name":"panel"},"transform":[{"filter":"datum.kind=='bg'"}],"mark":{"type":"rect","fill":"#ECECEC","stroke":"#B4B4B4","strokeWidth":1},"encoding":{"x2":{"field":"t2"},"y2":{"field":"p2"}}},
{"data":{"name":"panel"},"transform":[{"filter":"datum.kind=='title'"}],"mark":{"type":"rect","fill":"#F4F4F4","stroke":"#C8C8C8","strokeWidth":0.6},"encoding":{"x2":{"field":"t2"},"y2":{"field":"p2"}}},
{"data":{"name":"panel"},"transform":[{"filter":"datum.kind=='btn'"}],"mark":{"type":"rect","fill":"#E2E2E2","stroke":"#BDBDBD","strokeWidth":0.8,"cornerRadius":2},"encoding":{"x2":{"field":"t2"},"y2":{"field":"p2"}}},
{"data":{"name":"panel"},"transform":[{"filter":"datum.kind=='white'"}],"mark":{"type":"rect","fill":"#FFFFFF","stroke":"#C4C4C4","strokeWidth":0.8},"encoding":{"x2":{"field":"t2"},"y2":{"field":"p2"}}},
{"data":{"name":"panel"},"transform":[{"filter":"datum.kind=='track'"}],"mark":{"type":"rect","fill":"#D6D6D6","stroke":"#C4C4C4","strokeWidth":0.6,"cornerRadius":2},"encoding":{"x2":{"field":"t2"},"y2":{"field":"p2"}}},
{"data":{"name":"panel"},"transform":[{"filter":"datum.kind=='teal'"}],"mark":{"type":"rect","fill":"#55B8AE","stroke":"#45A89E","strokeWidth":0.8,"cornerRadius":2},"encoding":{"x2":{"field":"t2"},"y2":{"field":"p2"}}},
{"data":{"name":"ptext"},"transform":[{"filter":"datum.kind=='title'"}],"mark":{"type":"text","color":"#A6A6A6","fontSize":10,"align":"center","baseline":"middle"},"encoding":{"text":{"field":"text"}}},
{"data":{"name":"ptext"},"transform":[{"filter":"datum.kind=='w'"}],"mark":{"type":"text","color":"#FFFFFF","fontSize":7.5,"align":"center","baseline":"middle"},"encoding":{"text":{"field":"text"}}},
{"data":{"name":"ptext"},"transform":[{"filter":"datum.kind=='d'"}],"mark":{"type":"text","color":"#333333","fontSize":7.5,"align":"center","baseline":"middle"},"encoding":{"text":{"field":"text"}}},
{"data":{"name":"ptext"},"transform":[{"filter":"datum.kind=='dl'"}],"mark":{"type":"text","color":"#333333","fontSize":7,"align":"left","baseline":"middle"},"encoding":{"text":{"field":"text"}}},
{"data":{"name":"ptext"},"transform":[{"filter":"datum.kind=='check'"}],"mark":{"type":"text","color":"#45A89E","fontSize":9,"align":"center","baseline":"middle","font":"DejaVu Sans"},"encoding":{"text":{"field":"text"}}},
{"data":{"name":"ptext"},"transform":[{"filter":"datum.kind=='sym'"}],"mark":{"type":"text","color":"#111111","fontSize":5.5,"align":"left","baseline":"middle","font":"DejaVu Sans"},"encoding":{"text":{"field":"text"}}},
{"data":{"name":"axbox"},"transform":[{"filter":"datum.kind=='red'"}],"mark":{"type":"rect","color":"#F00000"},"encoding":{"x2":{"field":"t2"},"y2":{"field":"p2"}}},
{"data":{"name":"axbox"},"transform":[{"filter":"datum.kind=='black'"}],"mark":{"type":"rect","color":"#000000"},"encoding":{"x2":{"field":"t2"},"y2":{"field":"p2"}}},
{"data":{"name":"axtext"},"mark":{"type":"text","color":"#FFFFFF","fontSize":5.5,"align":"center","baseline":"middle"},"encoding":{"text":{"field":"text"}}},
{"data":{"name":"axfrag"},"mark":{"type":"text","color":"#222222","fontSize":5.5,"align":"left","baseline":"middle"},"encoding":{"text":{"field":"text"}}}
]
}
